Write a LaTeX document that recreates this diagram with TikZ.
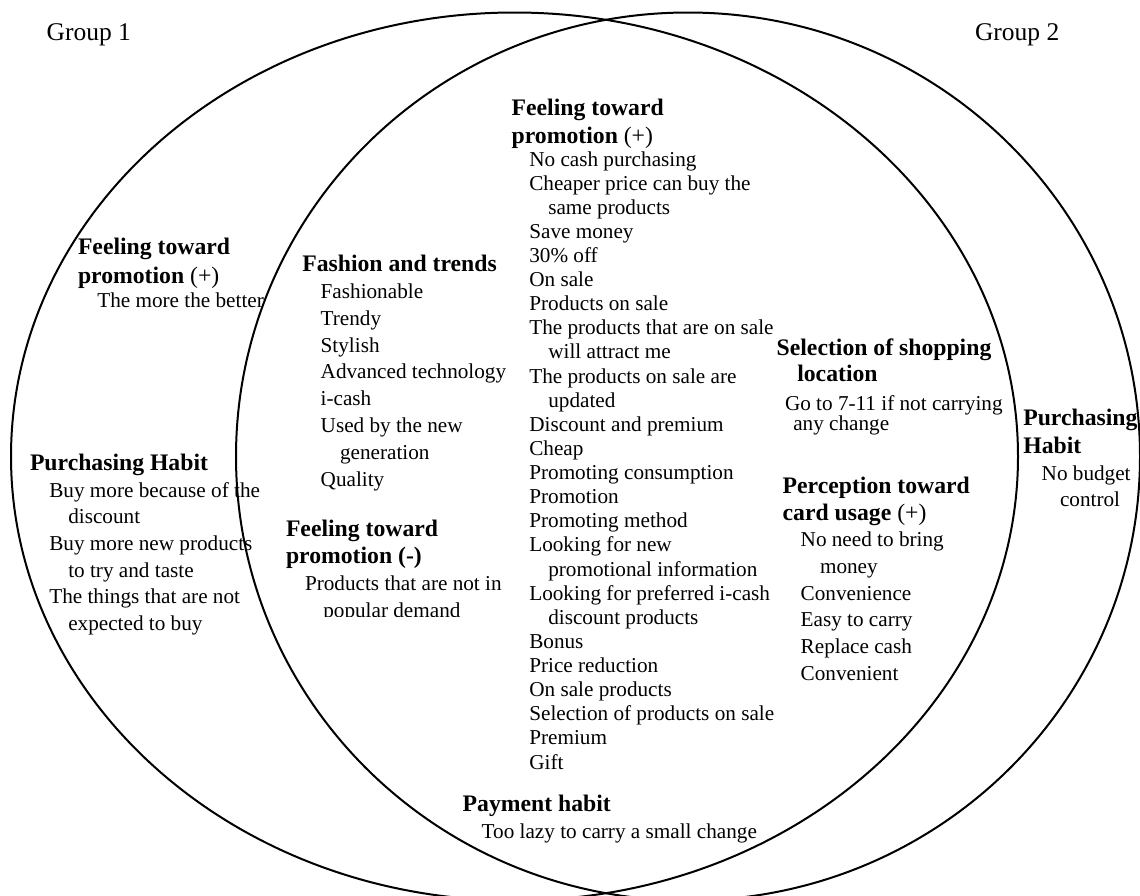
\documentclass[tikz,border=0pt]{standalone}
\usepackage{fontspec}
\setmainfont{Liberation Serif}
\usetikzlibrary{shapes.geometric}
\lineskiplimit=-100pt
\newcommand\HL[3]{\baselineskip=#1pt\hbox{\kern#2pt\fontsize{23.7}{28}\selectfont\bfseries #3}}
\newcommand\BL[3]{\baselineskip=#1pt\hbox{\kern#2pt\fontsize{21.2}{24}\selectfont #3}}
\begin{document}
\begin{tikzpicture}[x=1pt,y=-1pt,
  blk/.style={inner sep=0pt,outer sep=0pt,anchor=base west},
  ring/.style={draw=black,line width=2pt,ellipse,inner sep=0pt,outer sep=0pt},
  grplabel/.style={inner sep=0pt,outer sep=0pt,anchor=base west,font=\fontsize{25.5}{30}\selectfont}]
\useasboundingbox (0,0) rectangle (1140,895);
\clip (0,0) rectangle (1140,895);
% circles
\node[ring,minimum width=1007pt,minimum height=888pt] (g1) at (514.5,456.5) {};
\node[ring,minimum width=904pt,minimum height=888pt] (g2) at (688,456.5) {};
% group labels
\node[grplabel] (lab1) at (46.7,40.7) {Group 1};
\node[grplabel] (lab2) at (975,40.7) {Group 2};
% left: feeling toward promotion (+)
\node[blk] (lfp) at (78,254) {\vtop{%
  \HL{28}{0}{Feeling toward}
  \HL{29}{0}{promotion \textmd{(+)}}
  \BL{24}{19.3}{The more the better}}};
% left: purchasing habit
\node[blk] (lph) at (30,470.7) {\vtop{%
  \HL{28}{0}{Purchasing Habit}
  \BL{26.6}{19.3}{Buy more because of the}
  \BL{26.6}{38.3}{discount}
  \BL{26.6}{19.3}{Buy more new products}
  \BL{26.6}{38.3}{to try and taste}
  \BL{26.6}{19.3}{The things that are not}
  \BL{26.6}{38.3}{expected to buy}}};
% fashion and trends
\node[blk] (fat) at (302.3,271.7) {\vtop{%
  \HL{28}{0}{Fashion and trends}
  \BL{26.8}{18.4}{Fashionable}
  \BL{26.8}{18.4}{Trendy}
  \BL{26.8}{18.4}{Stylish}
  \BL{26.8}{18.4}{Advanced technology}
  \BL{26.8}{18.4}{i-cash}
  \BL{26.8}{18.4}{Used by the new}
  \BL{26.8}{37.7}{generation}
  \BL{26.8}{18.4}{Quality}}};
% feeling toward promotion (-)
\begin{scope}
\clip (280,480) rectangle (520,616);
\node[blk] (fpm) at (286,536.7) {\vtop{%
  \HL{28}{0}{Feeling toward}
  \HL{26.6}{0}{promotion (-)}
  \BL{27.4}{19}{Products that are not in}
  \BL{26.6}{37.3}{popular demand}}};
\end{scope}
% middle: feeling toward promotion (+)
\node[blk] (mfp) at (511.7,115.3) {\vtop{%
  \HL{28}{0}{Feeling toward}
  \HL{28}{0}{promotion \textmd{(+)}}
  \BL{22.7}{17.6}{No cash purchasing}
  \BL{24.12}{17.6}{Cheaper price can buy the}
  \BL{24.12}{36.6}{same products}
  \BL{24.12}{17.6}{Save money}
  \BL{24.12}{17.6}{30\% off}
  \BL{24.12}{17.6}{On sale}
  \BL{24.12}{17.6}{Products on sale}
  \BL{24.12}{17.6}{The products that are on sale}
  \BL{24.12}{36.6}{will attract me}
  \BL{24.12}{17.6}{The products on sale are}
  \BL{24.12}{36.6}{updated}
  \BL{24.12}{17.6}{Discount and premium}
  \BL{24.12}{17.6}{Cheap}
  \BL{24.12}{17.6}{Promoting consumption}
  \BL{24.12}{17.6}{Promotion}
  \BL{24.12}{17.6}{Promoting method}
  \BL{24.12}{17.6}{Looking for new}
  \BL{24.12}{36.6}{promotional information}
  \BL{24.12}{17.6}{Looking for preferred i-cash}
  \BL{24.12}{36.6}{discount products}
  \BL{24.12}{17.6}{Bonus}
  \BL{24.12}{17.6}{Price reduction}
  \BL{24.12}{17.6}{On sale products}
  \BL{24.12}{17.6}{Selection of products on sale}
  \BL{24.12}{17.6}{Premium}
  \BL{24.12}{17.6}{Gift}}};
% selection of shopping location
\node[blk] (ssl) at (776.7,355) {\vtop{%
  \HL{28}{0}{Selection of shopping}
  \HL{26.7}{20.6}{location}
  \BL{29}{8.3}{Go to 7-11 if not carrying}
  \BL{19.5}{16.6}{any change}}};
% perception toward card usage
\node[blk] (pcu) at (782.7,493.3) {\vtop{%
  \HL{28}{0}{Perception toward}
  \HL{26.7}{0}{card usage \textmd{(+)}}
  \BL{26.7}{18}{No need to bring}
  \BL{26.7}{37.3}{money}
  \BL{26.7}{18}{Convenience}
  \BL{26.7}{18}{Easy to carry}
  \BL{26.7}{18}{Replace cash}
  \BL{26.7}{18}{Convenient}}};
% right: purchasing habit
\node[blk] (rph) at (1023.3,425) {\vtop{%
  \HL{28}{0}{Purchasing}
  \HL{28.3}{0}{Habit}
  \BL{26.7}{18.4}{No budget}
  \BL{26.7}{36.7}{control}}};
% payment habit
\node[blk] (pay) at (462.7,811.7) {\vtop{%
  \HL{28}{0}{Payment habit}
  \BL{26.6}{19}{Too lazy to carry a small change}}};
\end{tikzpicture}
\end{document}
